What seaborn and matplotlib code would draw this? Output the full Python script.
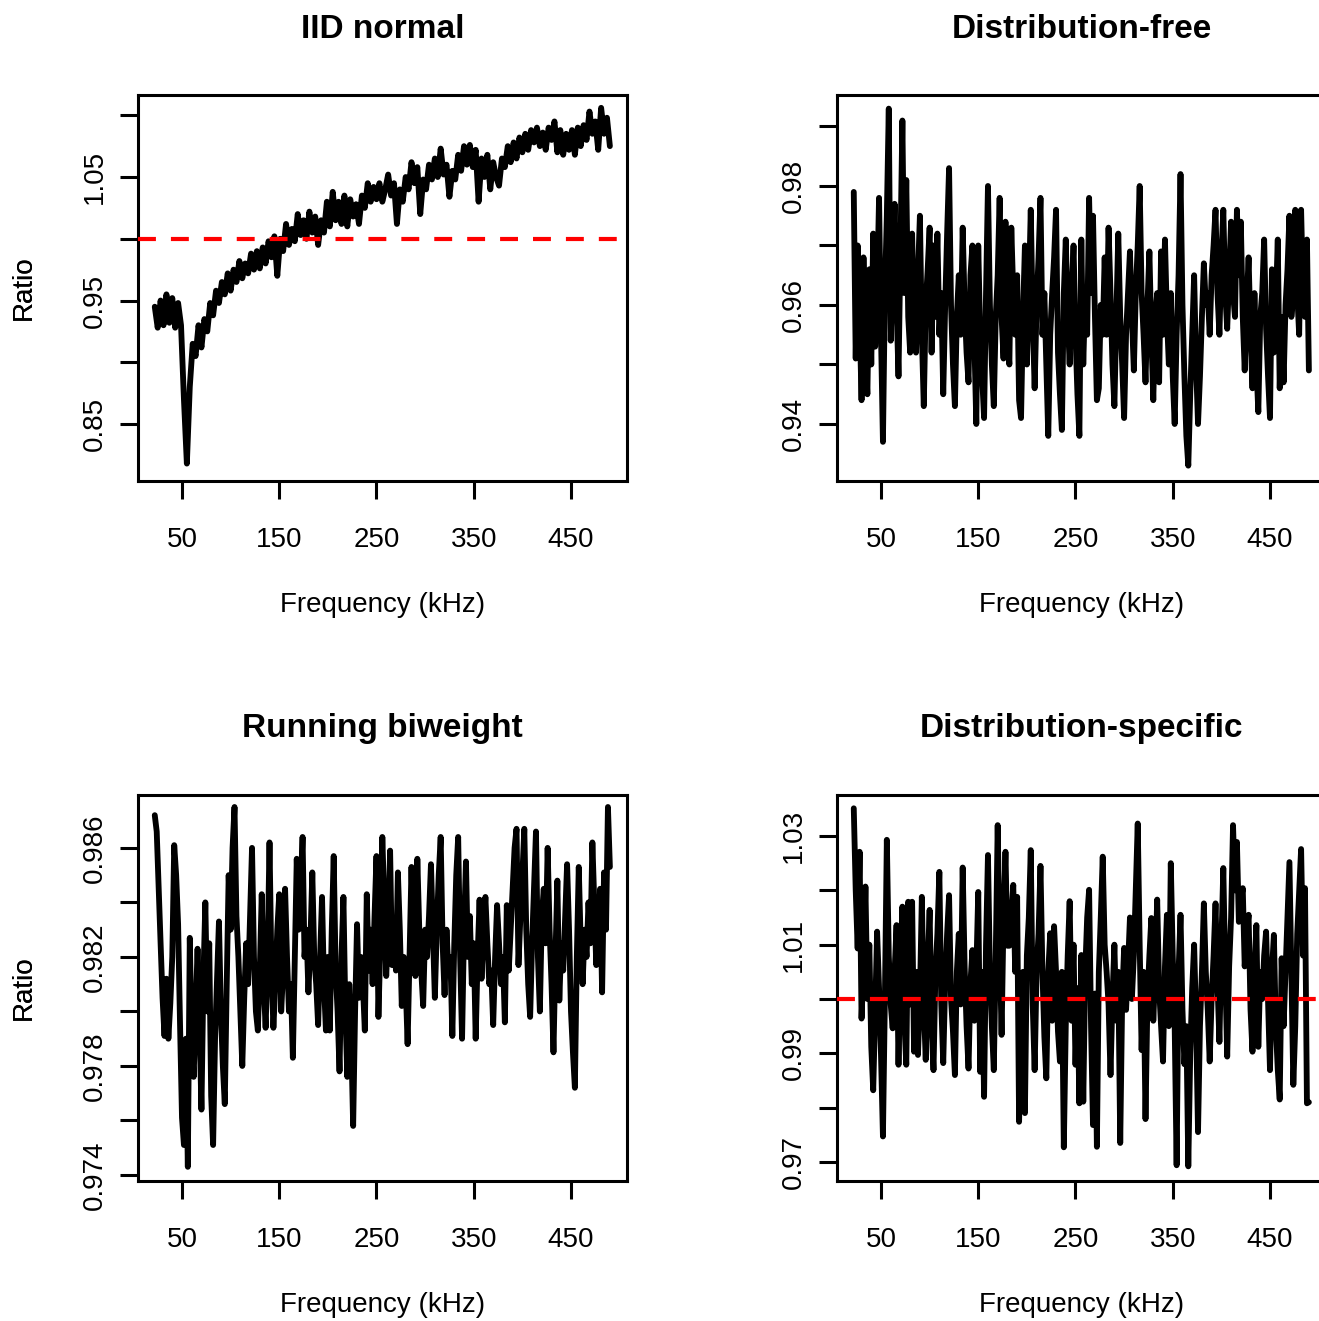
import numpy as np
import pandas as pd
import seaborn as sns
import matplotlib
matplotlib.use("Agg")
import matplotlib.pyplot as plt

# ---------------- data ----------------
# IID normal panel sampled every 3 kHz, the three noisy panels every 2 kHz
freq_iid_khz = np.arange(22, 491, 3)
freq_khz = np.arange(22, 491, 2)

iid_normal = [
    0.945, 0.928, 0.950, 0.930, 0.955, 0.932, 0.952, 0.928, 0.948, 0.930,
    0.870, 0.818, 0.880, 0.915, 0.905, 0.930, 0.912, 0.935, 0.925, 0.948,
    0.938, 0.958, 0.948, 0.965, 0.955, 0.972, 0.958, 0.975, 0.965, 0.982,
    0.968, 0.980, 0.972, 0.988, 0.975, 0.990, 0.976, 0.993, 0.980, 0.998,
    0.985, 1.002, 0.970, 1.000, 0.990, 1.012, 0.995, 1.008, 0.998, 1.020,
    1.003, 1.015, 1.000, 1.022, 1.005, 1.018, 0.995, 1.015, 1.005, 1.030,
    1.010, 1.038, 1.015, 1.030, 1.012, 1.035, 1.010, 1.032, 1.018, 1.028,
    1.012, 1.035, 1.025, 1.045, 1.030, 1.042, 1.032, 1.045, 1.030, 1.040,
    1.052, 1.035, 1.045, 1.012, 1.040, 1.030, 1.050, 1.040, 1.062, 1.045,
    1.058, 1.020, 1.048, 1.040, 1.060, 1.048, 1.065, 1.050, 1.073, 1.052,
    1.060, 1.034, 1.055, 1.048, 1.068, 1.055, 1.075, 1.060, 1.076, 1.058,
    1.072, 1.030, 1.065, 1.050, 1.068, 1.040, 1.062, 1.050, 1.043, 1.065,
    1.058, 1.075, 1.062, 1.078, 1.065, 1.082, 1.070, 1.085, 1.072, 1.088,
    1.078, 1.090, 1.075, 1.086, 1.072, 1.090, 1.080, 1.095, 1.070, 1.088,
    1.068, 1.085, 1.072, 1.088, 1.068, 1.090, 1.075, 1.092, 1.080, 1.103,
    1.085, 1.095, 1.072, 1.106, 1.085, 1.098, 1.075,
]

distribution_free = [
    0.979, 0.951, 0.970, 0.958, 0.944, 0.968, 0.952, 0.945, 0.966, 0.950,
    0.972, 0.953, 0.962, 0.978, 0.955, 0.937, 0.962, 0.975, 0.993, 0.954,
    0.966, 0.977, 0.960, 0.948, 0.970, 0.991, 0.962, 0.981, 0.958, 0.952,
    0.972, 0.956, 0.952, 0.965, 0.975, 0.955, 0.943, 0.960, 0.966, 0.973,
    0.952, 0.970, 0.958, 0.972, 0.955, 0.962, 0.945, 0.960, 0.972, 0.983,
    0.960, 0.950, 0.943, 0.958, 0.965, 0.955, 0.973, 0.960, 0.952, 0.947,
    0.965, 0.970, 0.954, 0.940, 0.970, 0.955, 0.948, 0.941, 0.962, 0.980,
    0.960, 0.950, 0.943, 0.958, 0.965, 0.978, 0.958, 0.951, 0.974, 0.955,
    0.950, 0.973, 0.962, 0.955, 0.965, 0.944, 0.941, 0.958, 0.970, 0.950,
    0.962, 0.976, 0.958, 0.946, 0.960, 0.968, 0.978, 0.955, 0.962, 0.950,
    0.938, 0.955, 0.962, 0.968, 0.976, 0.952, 0.945, 0.939, 0.962, 0.971,
    0.958, 0.950, 0.962, 0.970, 0.955, 0.945, 0.938, 0.971, 0.950, 0.962,
    0.955, 0.978, 0.962, 0.975, 0.958, 0.944, 0.946, 0.960, 0.955, 0.968,
    0.955, 0.973, 0.962, 0.950, 0.943, 0.958, 0.972, 0.958, 0.950, 0.941,
    0.955, 0.962, 0.969, 0.958, 0.949, 0.962, 0.970, 0.980, 0.962, 0.955,
    0.947, 0.960, 0.969, 0.955, 0.944, 0.958, 0.962, 0.947, 0.969, 0.955,
    0.971, 0.958, 0.950, 0.962, 0.948, 0.940, 0.955, 0.965, 0.982, 0.960,
    0.948, 0.938, 0.933, 0.945, 0.955, 0.965, 0.950, 0.940, 0.948, 0.958,
    0.967, 0.960, 0.962, 0.955, 0.965, 0.970, 0.976, 0.962, 0.955, 0.968,
    0.976, 0.962, 0.956, 0.965, 0.974, 0.962, 0.958, 0.976, 0.965, 0.974,
    0.958, 0.949, 0.960, 0.968, 0.955, 0.946, 0.962, 0.950, 0.942, 0.958,
    0.962, 0.971, 0.956, 0.948, 0.941, 0.966, 0.952, 0.960, 0.971, 0.946,
    0.958, 0.947, 0.960, 0.966, 0.975, 0.958, 0.962, 0.976, 0.962, 0.955,
    0.976, 0.962, 0.958, 0.971, 0.949,
]

running_biweight = [
    0.9872, 0.9866, 0.9845, 0.9825, 0.9805, 0.9791, 0.9812, 0.9790, 0.9803, 0.9820,
    0.9861, 0.9850, 0.9832, 0.9795, 0.9761, 0.9751, 0.9790, 0.9743, 0.9827, 0.9790,
    0.9776, 0.9800, 0.9823, 0.9795, 0.9764, 0.9812, 0.9840, 0.9800, 0.9825, 0.9769,
    0.9751, 0.9790, 0.9812, 0.9833, 0.9800, 0.9780, 0.9766, 0.9810, 0.9850, 0.9830,
    0.9860, 0.9875, 0.9835, 0.9820, 0.9800, 0.9780, 0.9805, 0.9825, 0.9810, 0.9835,
    0.9860, 0.9820, 0.9800, 0.9793, 0.9815, 0.9843, 0.9810, 0.9794, 0.9820, 0.9862,
    0.9815, 0.9794, 0.9810, 0.9830, 0.9843, 0.9800, 0.9815, 0.9845, 0.9820, 0.9800,
    0.9810, 0.9783, 0.9820, 0.9856, 0.9830, 0.9845, 0.9864, 0.9820, 0.9830, 0.9807,
    0.9825, 0.9851, 0.9820, 0.9810, 0.9795, 0.9820, 0.9842, 0.9810, 0.9793, 0.9820,
    0.9793, 0.9830, 0.9857, 0.9815, 0.9800, 0.9778, 0.9820, 0.9842, 0.9800, 0.9776,
    0.9810, 0.9790, 0.9758, 0.9800, 0.9832, 0.9805, 0.9820, 0.9810, 0.9793, 0.9843,
    0.9815, 0.9830, 0.9810, 0.9835, 0.9857, 0.9798, 0.9825, 0.9864, 0.9840, 0.9813,
    0.9830, 0.9859, 0.9817, 0.9830, 0.9815, 0.9851, 0.9830, 0.9802, 0.9820, 0.9810,
    0.9788, 0.9820, 0.9853, 0.9825, 0.9813, 0.9856, 0.9830, 0.9815, 0.9802, 0.9830,
    0.9820, 0.9835, 0.9854, 0.9830, 0.9805, 0.9830, 0.9850, 0.9864, 0.9825, 0.9806,
    0.9830, 0.9815, 0.9820, 0.9791, 0.9825, 0.9850, 0.9864, 0.9820, 0.9790, 0.9830,
    0.9855, 0.9820, 0.9835, 0.9810, 0.9825, 0.9790, 0.9820, 0.9841, 0.9812, 0.9830,
    0.9842, 0.9825, 0.9810, 0.9815, 0.9795, 0.9820, 0.9839, 0.9825, 0.9810, 0.9820,
    0.9796, 0.9839, 0.9815, 0.9830, 0.9845, 0.9860, 0.9867, 0.9817, 0.9835, 0.9850,
    0.9867, 0.9830, 0.9810, 0.9798, 0.9825, 0.9845, 0.9866, 0.9820, 0.9800, 0.9835,
    0.9845, 0.9825, 0.9860, 0.9830, 0.9810, 0.9785, 0.9820, 0.9848, 0.9804, 0.9825,
    0.9815, 0.9835, 0.9854, 0.9830, 0.9800, 0.9785, 0.9772, 0.9820, 0.9853, 0.9825,
    0.9810, 0.9830, 0.9820, 0.9840, 0.9825, 0.9862, 0.9840, 0.9817, 0.9830, 0.9845,
    0.9807, 0.9851, 0.9830, 0.9875, 0.9853,
]

distribution_specific = [
    1.0351, 1.0200, 1.0093, 1.0271, 0.9964, 1.0060, 1.0207, 1.0000, 1.0100, 0.9912,
    0.9832, 0.9980, 1.0124, 1.0020, 0.9897, 0.9747, 1.0000, 1.0293, 1.0080, 0.9990,
    0.9946, 1.0050, 1.0136, 0.9879, 1.0060, 1.0170, 0.9960, 0.9879, 1.0179, 0.9990,
    1.0179, 0.9903, 1.0050, 0.9897, 1.0000, 1.0188, 0.9990, 0.9888, 1.0060, 1.0164,
    0.9950, 0.9869, 1.0050, 1.0120, 1.0234, 0.9990, 0.9882, 1.0030, 1.0120, 1.0191,
    1.0000, 0.9940, 0.9860, 1.0050, 1.0120, 0.9990, 1.0242, 1.0060, 0.9950, 0.9872,
    1.0030, 1.0090, 0.9960, 1.0050, 1.0197, 0.9866, 1.0050, 0.9820, 1.0100, 1.0265,
    1.0050, 0.9950, 0.9869, 1.0080, 1.0320, 1.0100, 0.9934, 1.0150, 1.0271, 1.0098,
    1.0098, 1.0150, 1.0210, 1.0050, 1.0188, 0.9774, 0.9950, 1.0050, 0.9790, 1.0080,
    1.0150, 1.0274, 0.9990, 0.9869, 1.0050, 1.0120, 1.0245, 1.0050, 0.9930, 0.9854,
    1.0050, 1.0121, 0.9960, 1.0134, 1.0050, 0.9940, 0.9885, 1.0050, 0.9727, 0.9950,
    1.0080, 1.0180, 0.9960, 1.0100, 0.9879, 1.0020, 0.9808, 1.0081, 0.9811, 1.0050,
    1.0150, 1.0201, 0.9950, 0.9768, 1.0010, 0.9728, 1.0050, 1.0150, 1.0262, 1.0100,
    1.0050, 0.9990, 0.9860, 1.0000, 1.0100, 0.9960, 1.0050, 0.9735, 1.0000, 1.0094,
    0.9980, 1.0060, 1.0150, 1.0000, 1.0080, 1.0200, 1.0323, 1.0100, 0.9906, 1.0050,
    0.9779, 1.0000, 1.0080, 1.0149, 0.9960, 1.0050, 1.0183, 1.0020, 0.9950, 0.9885,
    1.0060, 1.0155, 0.9950, 1.0250, 1.0080, 0.9950, 0.9694, 1.0050, 1.0155, 0.9980,
    0.9880, 0.9950, 0.9692, 0.9900, 1.0020, 1.0100, 0.9960, 0.9755, 0.9950, 1.0050,
    1.0176, 1.0050, 0.9980, 0.9885, 1.0000, 1.0080, 1.0176, 1.0030, 0.9921, 1.0100,
    1.0241, 1.0050, 0.9894, 1.0060, 1.0150, 1.0320, 1.0200, 1.0289, 1.0142, 1.0180,
    1.0204, 1.0060, 1.0120, 1.0155, 0.9980, 0.9903, 1.0050, 1.0136, 0.9912, 1.0050,
    1.0000, 1.0080, 1.0124, 1.0000, 0.9869, 1.0050, 1.0118, 0.9950, 0.9870, 0.9815,
    1.0075, 0.9950, 1.0050, 1.0150, 1.0252, 1.0050, 0.9842, 0.9950, 1.0120, 1.0200,
    1.0276, 1.0080, 1.0204, 0.9808, 0.9810,
]

panel_titles = ["IID normal", "Distribution-free", "Running biweight", "Distribution-specific"]
x_tick_values = [50, 150, 250, 350, 450]

y_ticks_iid = [0.85, 0.90, 0.95, 1.00, 1.05, 1.10]
y_labels_iid = ["0.85", "", "0.95", "", "1.05", ""]
y_ticks_free = [0.94, 0.95, 0.96, 0.97, 0.98, 0.99]
y_labels_free = ["0.94", "", "0.96", "", "0.98", ""]
y_ticks_bw = [0.974, 0.976, 0.978, 0.980, 0.982, 0.984, 0.986]
y_labels_bw = ["0.974", "", "0.978", "", "0.982", "", "0.986"]
y_ticks_spec = [0.97, 0.98, 0.99, 1.00, 1.01, 1.02, 1.03]
y_labels_spec = ["0.97", "", "0.99", "", "1.01", "", "1.03"]

# ---------------- styling ----------------
sns.set_style("ticks")
plt.rcParams["font.family"] = ["Liberation Sans", "DejaVu Sans"]
plt.rcParams["text.color"] = "black"
plt.rcParams["axes.labelcolor"] = "black"
plt.rcParams["xtick.color"] = "black"
plt.rcParams["ytick.color"] = "black"

W, H = 1319, 1321
fig = plt.figure(figsize=(W / 100, H / 100), dpi=100)

# axes boxes in pixel coordinates: (left, top, right, bottom)
boxes = [(138, 95, 627, 481), (837, 95, 1326, 481),
         (138, 795, 627, 1181), (837, 795, 1326, 1181)]
ylims = [(0.8039, 1.1164), (0.93042, 0.99529), (0.97378, 0.98794), (0.96650, 1.03755)]
series = [iid_normal, distribution_free, running_biweight, distribution_specific]
xs = [freq_iid_khz, freq_khz, freq_khz, freq_khz]
yticks = [(y_ticks_iid, y_labels_iid), (y_ticks_free, y_labels_free),
          (y_ticks_bw, y_labels_bw), (y_ticks_spec, y_labels_spec)]
ref_line = [True, False, False, True]

for i in range(4):
    l, t, r, b = boxes[i]
    h = b - t
    ax = fig.add_axes([l / W, 1 - b / H, (r - l) / W, h / H])
    df = pd.DataFrame({"freq": xs[i], "ratio": series[i]})
    sns.lineplot(data=df, x="freq", y="ratio", ax=ax, color="black",
                 linewidth=4.2, estimator=None, sort=False, zorder=2)
    for ln in ax.get_lines():
        ln.set_solid_capstyle("round")
        ln.set_solid_joinstyle("round")
    if ref_line[i]:
        ax.axhline(1.0, color="#FF0000", linewidth=3.0,
                   linestyle=(0, (4.3, 3.6)), zorder=3)
    ax.set_xlim(4.76, 507.6)
    ax.set_ylim(*ylims[i])
    ax.set_xticks(x_tick_values)
    ax.set_xticklabels([str(v) for v in x_tick_values])
    ax.set_yticks(yticks[i][0])
    ax.set_yticklabels(yticks[i][1])
    for lab in ax.get_yticklabels():
        lab.set_rotation(90)
        lab.set_va("center")
        lab.set_ha("right")
    ax.tick_params(axis="both", direction="out", length=13, width=2.2,
                   labelsize=20, color="black", labelcolor="black")
    ax.tick_params(axis="x", pad=20)
    ax.tick_params(axis="y", pad=9)
    for sp in ax.spines.values():
        sp.set_visible(True)
        sp.set_linewidth(2.2)
        sp.set_color("black")
    ax.set_xlabel("Frequency (kHz)", fontsize=20, va="center", ha="center", color="black")
    ax.set_ylabel("Ratio", fontsize=20, va="center", ha="center", rotation=90, color="black")
    ax.xaxis.set_label_coords(0.5, -124 / h)
    ax.yaxis.set_label_coords((24 - l) / (r - l), 0.5)
    ax.set_title(panel_titles[i], fontsize=24, fontweight="bold", color="black",
                 y=1 + 66 / h, va="center", pad=0)
    ax.set_facecolor("white")

fig.savefig("out.png", dpi=100, facecolor="white")
